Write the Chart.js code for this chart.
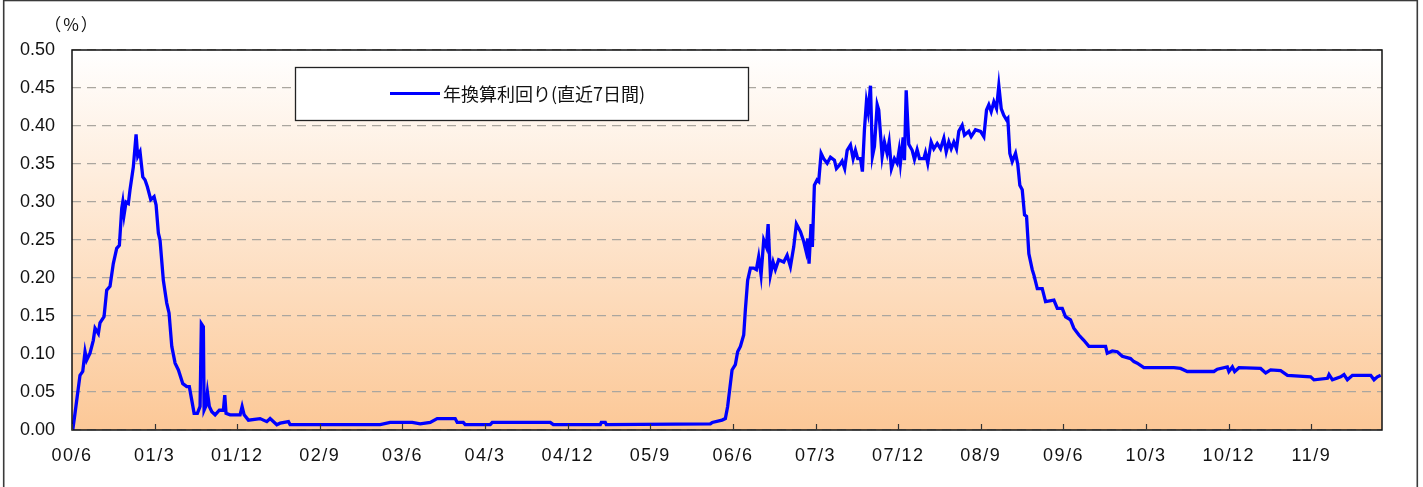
<!DOCTYPE html>
<html>
<head>
<meta charset="utf-8">
<script src="https://cdn.jsdelivr.net/npm/chart.js@4.4.1/dist/chart.umd.min.js"></script>
<style>
  html, body { margin: 0; padding: 0; background: #fff; }
  #wrap { width: 1423px; height: 487px; position: relative; }
</style>
</head>
<body>
<div id="wrap"><canvas id="yieldChart"></canvas></div>
<script>
// x axis: months elapsed since 2000/6, one tick label every 9 months
const tickLabels = ['00/6', '01/3', '01/12', '02/9', '03/6', '04/3', '04/12', '05/9',
                    '06/6', '07/3', '07/12', '08/9', '09/6', '10/3', '10/12', '11/9'];
const monthsPerTick = 9;
const lastMonth = 142.7;

// annualized yield (last 7 days), %
const months = [
  0.08, 0.33, 0.87, 1.17, 1.42, 1.60, 1.96, 2.32, 2.51, 2.87, 3.05, 3.49, 3.78, 4.14, 4.50, 4.87,
  5.16, 5.42, 5.53, 5.67, 5.89, 6.14, 6.32, 6.68, 6.98, 7.16, 7.41, 7.71, 7.96, 8.21, 8.58, 8.94,
  9.16, 9.41, 9.59, 9.95, 10.32, 10.57, 10.87, 11.23, 11.59, 12.07, 12.50, 12.78, 13.05, 13.30,
  13.66, 13.95, 14.09, 14.31, 14.39, 14.57, 14.75, 14.96, 15.23, 15.59, 16.05, 16.49, 16.64,
  16.78, 17.22, 18.31, 18.53, 18.75, 19.22, 20.49, 21.22, 21.58, 22.31, 22.67, 23.58, 23.76,
  33.57, 34.66, 37.06, 37.93, 39.02, 39.78, 41.74, 41.96, 42.62, 42.83, 45.56, 45.78, 52.10,
  52.43, 57.55, 57.66, 58.09, 58.20, 69.54, 69.75, 70.81, 71.17, 71.42, 71.90, 72.26, 72.51,
  72.81, 73.17, 73.35, 73.60, 73.90, 74.26, 74.55, 74.80, 75.06, 75.35, 75.64, 75.83, 76.08,
  76.37, 76.62, 76.98, 77.53, 77.90, 78.26, 78.62, 78.91, 79.35, 79.71, 79.97, 80.14, 80.29,
  80.51, 80.65, 80.87, 81.16, 81.34, 81.60, 81.88, 82.26, 82.62, 83.05, 83.27, 83.63, 83.89,
  84.17, 84.44, 84.80, 85.09, 85.34, 85.59, 85.89, 86.10, 86.32, 86.54, 86.72, 86.98, 87.19,
  87.41, 87.71, 87.88, 88.25, 88.50, 88.79, 89.01, 89.26, 89.59, 89.88, 90.10, 90.24, 90.54,
  90.68, 90.87, 91.15, 91.52, 91.77, 92.06, 92.32, 92.79, 92.97, 93.22, 93.59, 93.88, 94.25,
  94.61, 94.97, 95.23, 95.51, 95.77, 96.06, 96.35, 96.60, 96.97, 97.22, 97.69, 97.95, 98.42,
  98.97, 99.33, 99.62, 99.87, 100.13, 100.42, 100.71, 100.96, 101.22, 101.50, 101.80, 101.94,
  102.16, 102.42, 102.78, 103.03, 103.25, 103.51, 103.76, 103.98, 104.23, 104.60, 104.78,
  105.15, 105.69, 106.05, 106.96, 107.33, 107.87, 108.23, 108.77, 109.13, 109.68, 110.22,
  110.77, 112.59, 112.77, 113.32, 113.86, 114.41, 115.31, 115.67, 116.04, 116.76, 120.03,
  120.76, 121.49, 124.39, 124.76, 125.85, 126.02, 126.40, 126.65, 127.12, 129.48, 130.03,
  130.57, 131.66, 132.40, 134.93, 135.29, 136.76, 136.93, 137.30, 138.20, 138.56, 138.93,
  139.48, 141.47, 141.83, 142.20, 142.56
];
const yields = [
  0.000, 0.022, 0.072, 0.077, 0.103, 0.092, 0.101, 0.118, 0.134, 0.127, 0.141, 0.149, 0.184, 0.189, 0.219, 0.239,
  0.243, 0.292, 0.300, 0.283, 0.300, 0.298, 0.316, 0.346, 0.389, 0.360, 0.366, 0.333, 0.329, 0.320, 0.303, 0.307,
  0.296, 0.259, 0.250, 0.197, 0.167, 0.154, 0.110, 0.088, 0.079, 0.061, 0.057, 0.057, 0.039, 0.022,
  0.022, 0.031, 0.140, 0.136, 0.026, 0.031, 0.050, 0.031, 0.024, 0.020, 0.026, 0.026, 0.046,
  0.022, 0.020, 0.020, 0.031, 0.020, 0.013, 0.015, 0.011, 0.015, 0.007, 0.009, 0.011, 0.007,
  0.007, 0.010, 0.010, 0.008, 0.010, 0.015, 0.015, 0.010, 0.010, 0.007, 0.007, 0.010, 0.010,
  0.007, 0.007, 0.010, 0.010, 0.007, 0.008, 0.010, 0.013, 0.015, 0.031, 0.079, 0.086, 0.103,
  0.110, 0.125, 0.158, 0.197, 0.213, 0.213, 0.211, 0.228, 0.204, 0.250, 0.241, 0.271, 0.204,
  0.221, 0.211, 0.224, 0.221, 0.230, 0.215, 0.241, 0.271, 0.261, 0.248, 0.235, 0.252, 0.219,
  0.271, 0.241, 0.322, 0.329, 0.327, 0.364, 0.357, 0.351, 0.359, 0.355, 0.344, 0.349, 0.354,
  0.344, 0.368, 0.375, 0.357, 0.368, 0.357, 0.357, 0.340, 0.395, 0.432, 0.419, 0.453, 0.360,
  0.373, 0.428, 0.421, 0.360, 0.379, 0.364, 0.379, 0.344, 0.357, 0.351, 0.368, 0.351, 0.385,
  0.355, 0.447, 0.376, 0.368, 0.356, 0.369, 0.357, 0.357, 0.365, 0.351, 0.379, 0.370, 0.377,
  0.370, 0.384, 0.366, 0.379, 0.370, 0.379, 0.370, 0.393, 0.401, 0.388, 0.393, 0.386, 0.395,
  0.393, 0.386, 0.421, 0.428, 0.419, 0.432, 0.423, 0.453, 0.423, 0.414, 0.408, 0.410,
  0.364, 0.353, 0.364, 0.349, 0.322, 0.316, 0.283, 0.281, 0.232, 0.211, 0.204,
  0.186, 0.186, 0.169, 0.171, 0.160, 0.160, 0.149, 0.145, 0.134, 0.125, 0.118,
  0.110, 0.110, 0.101, 0.104, 0.103, 0.097, 0.094, 0.090, 0.088, 0.082, 0.082,
  0.081, 0.077, 0.077, 0.080, 0.083, 0.077, 0.083, 0.077, 0.082, 0.081, 0.075,
  0.079, 0.078, 0.072, 0.070, 0.066, 0.068, 0.073, 0.066, 0.070, 0.073, 0.066,
  0.072, 0.072, 0.066, 0.070, 0.072
];

const seriesLabel = '年換算利回り(直近7日間)';
const unitLabel = '（%）';

// background gradient, frames, inner tick marks, legend box and unit label
const decorPlugin = {
  id: 'decor',
  beforeDatasetsDraw(chart) {
    const { ctx, chartArea: a } = chart;
    const g = ctx.createLinearGradient(0, a.top, 0, a.bottom);
    g.addColorStop(0, '#ffffff');
    g.addColorStop(1, '#fcc897');
    ctx.save();
    ctx.globalCompositeOperation = 'destination-over';
    ctx.fillStyle = g;
    ctx.fillRect(a.left, a.top, a.right - a.left, a.bottom - a.top);
    ctx.restore();
  },
  afterDraw(chart) {
    const { ctx, chartArea: a } = chart;
    const xs = chart.scales.x;
    ctx.save();
    // plot border
    ctx.strokeStyle = '#111';
    ctx.lineWidth = 1.5;
    ctx.strokeRect(a.left, a.top, a.right - a.left, a.bottom - a.top);
    // small ticks pointing up from the bottom axis
    ctx.lineWidth = 1.2;
    ctx.strokeStyle = '#333';
    xs.ticks.forEach(t => {
      const px = Math.round(xs.getPixelForValue(t.value)) + 0.5;
      ctx.beginPath();
      ctx.moveTo(px, a.bottom);
      ctx.lineTo(px, a.bottom - 6);
      ctx.stroke();
    });
    // unit label
    ctx.fillStyle = '#111';
    ctx.font = "17px 'Noto Sans CJK JP', sans-serif";
    ctx.textAlign = 'center';
    ctx.textBaseline = 'middle';
    ctx.letterSpacing = '2px';
    ctx.fillText(unitLabel, 72, 25);
    ctx.letterSpacing = '0px';
    // legend box
    const ds = chart.data.datasets[0];
    ctx.fillStyle = '#fff';
    ctx.fillRect(295, 67, 453, 53);
    ctx.strokeStyle = '#222';
    ctx.lineWidth = 1.3;
    ctx.strokeRect(295.5, 67.5, 453, 53);
    ctx.strokeStyle = ds.borderColor;
    ctx.lineWidth = 3;
    ctx.beginPath();
    ctx.moveTo(390, 93.5);
    ctx.lineTo(440, 93.5);
    ctx.stroke();
    ctx.fillStyle = '#111';
    ctx.font = "18px 'Noto Sans CJK JP', sans-serif";
    ctx.textAlign = 'left';
    ctx.fillText(ds.label, 443, 94);
    // outer frame of the picture
    ctx.strokeStyle = '#3a3a3a';
    ctx.lineWidth = 1.6;
    ctx.strokeRect(3.7, 0.5, 1413.6, 495);
    ctx.restore();
  }
};

const ctx = document.getElementById('yieldChart').getContext('2d');
Chart.defaults.font.family = "'Liberation Sans', Arial, sans-serif";
Chart.defaults.font.size = 18;
Chart.defaults.color = '#111';

const chart = new Chart(ctx, {
  type: 'line',
  data: {
    datasets: [{
      label: seriesLabel,
      data: months.map((m, i) => ({ x: m, y: yields[i] })),
      borderColor: '#0000ff',
      borderWidth: 3.3,
      pointRadius: 0,
      tension: 0,
      fill: false
    }]
  },
  options: {
    responsive: true,
    maintainAspectRatio: false,
    animation: false,
    layout: { padding: { top: 50, right: 41, left: 0, bottom: 0 } },
    plugins: {
      legend: { display: false },
      tooltip: { enabled: false }
    },
    scales: {
      x: {
        type: 'linear',
        min: 0,
        max: lastMonth,
        afterBuildTicks: (scale) => {
          scale.ticks = tickLabels.map((_, i) => ({ value: i * monthsPerTick }));
        },
        afterFit: (scale) => { scale.height = 57; },
        ticks: {
          autoSkip: false,
          maxRotation: 0,
          padding: 15,
          font: { size: 18 },
          callback: (v) => tickLabels[Math.round(v / monthsPerTick)] ?? ''
        },
        grid: { display: false, drawTicks: false },
        border: { display: false }
      },
      y: {
        min: 0,
        max: 0.5,
        afterFit: (scale) => { scale.width = 72; },
        ticks: {
          stepSize: 0.05,
          padding: 17,
          font: { size: 18 },
          callback: (v) => v.toFixed(2)
        },
        grid: { color: '#aaa69f', lineWidth: 1.2, drawTicks: false },
        border: { display: false, dash: [9, 6] }
      }
    }
  },
  plugins: [decorPlugin]
});

// the x labels in the picture have a wide slash; spread their letters a little
const xScale = chart.scales.x;
const drawLabels = xScale.drawLabels;
xScale.drawLabels = function (area) {
  const c = this.ctx;
  c.save();
  c.letterSpacing = '1.5px';
  drawLabels.call(this, area);
  c.restore();
};
chart.draw();
</script>
</body>
</html>
